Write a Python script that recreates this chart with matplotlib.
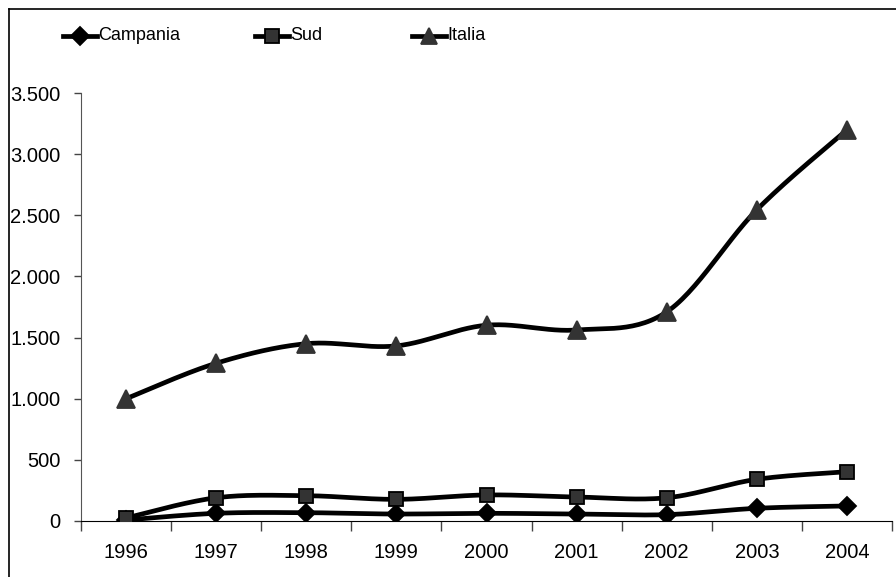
import numpy as np
import matplotlib
matplotlib.use("Agg")
import matplotlib.pyplot as plt
from matplotlib.lines import Line2D

plt.rcParams['font.family'] = ['Liberation Sans', 'DejaVu Sans']

## data
anni = ['1996', '1997', '1998', '1999', '2000', '2001', '2002', '2003', '2004']
campania = [8, 63, 68, 57, 63, 57, 52, 104, 123]
sud = [25, 190, 207, 177, 213, 196, 190, 341, 403]
italia = [1000, 1290, 1450, 1432, 1601, 1562, 1710, 2545, 3199]

yticks = [0, 500, 1000, 1500, 2000, 2500, 3000, 3500]
ylabels = ['0', '500', '1.000', '1.500', '2.000', '2.500', '3.000', '3.500']


## smooth line like Excel's "smoothed line" (Catmull-Rom through the points)
def smooth(xs, ys, steps=30):
    xs = np.asarray(xs, float)
    ys = np.asarray(ys, float)
    px = np.concatenate([[xs[0]], xs, [xs[-1]]])
    py = np.concatenate([[ys[0]], ys, [ys[-1]]])
    outx, outy = [], []
    t = np.linspace(0, 1, steps)
    for i in range(1, len(px) - 2):
        p0 = np.array([px[i - 1], py[i - 1]])
        p1 = np.array([px[i], py[i]])
        p2 = np.array([px[i + 1], py[i + 1]])
        p3 = np.array([px[i + 2], py[i + 2]])
        c1 = p1 + (p2 - p0) / 6
        c2 = p2 - (p3 - p1) / 6
        b = ((1 - t) ** 3)[:, None] * p1 + (3 * (1 - t) ** 2 * t)[:, None] * c1 \
            + (3 * (1 - t) * t ** 2)[:, None] * c2 + (t ** 3)[:, None] * p2
        outx.extend(b[:, 0])
        outy.extend(b[:, 1])
    return outx, outy


fig = plt.figure(figsize=(8.96, 5.77), dpi=100)
ax = fig.add_axes([81 / 896, 1 - 521 / 577, (892 - 81) / 896, (521 - 93) / 577])

x = np.arange(len(anni))
series = [
    (campania, 'D', 'black', 'black', 9),
    (sud, 's', '#333333', 'black', 10.5),
    (italia, '^', '#333333', '#333333', 12.5),
]
for vals, mk, fc, ec, ms in series:
    sx, sy = smooth(x, vals)
    ax.plot(sx, sy, color='black', lw=3.4, solid_capstyle='round', zorder=3)
    ax.plot(x, vals, linestyle='none', marker=mk, markersize=ms,
            markerfacecolor=fc, markeredgecolor=ec, markeredgewidth=1.3, zorder=4)

ax.set_xlim(-0.5, len(anni) - 0.5)
ax.set_ylim(0, 3500)
ax.set_xticks(x)
ax.set_xticklabels(anni)
ax.set_xticks(np.arange(len(anni) + 1) - 0.5, minor=True)
ax.set_yticks(yticks)
ax.set_yticklabels(ylabels)
ax.tick_params(axis='x', which='major', length=0, pad=16, labelsize=14.5)
ax.tick_params(axis='x', which='minor', length=7, width=1, color='#444444', direction='out')
ax.tick_params(axis='y', length=5, width=1, color='#444444', pad=10, labelsize=14.5)
ax.spines['top'].set_visible(False)
ax.spines['right'].set_visible(False)
ax.spines['left'].set_color('#555555')
ax.spines['bottom'].set_color('black')

## outer chart frame (cut off at right and bottom)
fig.add_artist(Line2D([9 / 896, 9 / 896], [0, 1 - 9 / 577], color='black', lw=1.2))
fig.add_artist(Line2D([9 / 896, 1], [1 - 9 / 577, 1 - 9 / 577], color='black', lw=1.2))

## legend drawn by hand across the top
legend_items = [('Campania', 'D', 'black', 'black', 9, 63),
                ('Sud', 's', '#333333', 'black', 10, 255),
                ('Italia', '^', '#333333', '#333333', 11, 412)]
ly = 1 - 36 / 577
for name, mk, fc, ec, ms, x0 in legend_items:
    xs = [x0 / 896, (x0 + 17) / 896, (x0 + 34) / 896]
    fig.add_artist(Line2D(xs, [ly] * 3, color='black', lw=3.4, marker=mk, markevery=[1],
                          markersize=ms, markerfacecolor=fc, markeredgecolor=ec,
                          markeredgewidth=1.3))
    fig.text((x0 + 35) / 896, ly, name, fontsize=13, va='center', ha='left')

fig.savefig('out.png', dpi=100)
